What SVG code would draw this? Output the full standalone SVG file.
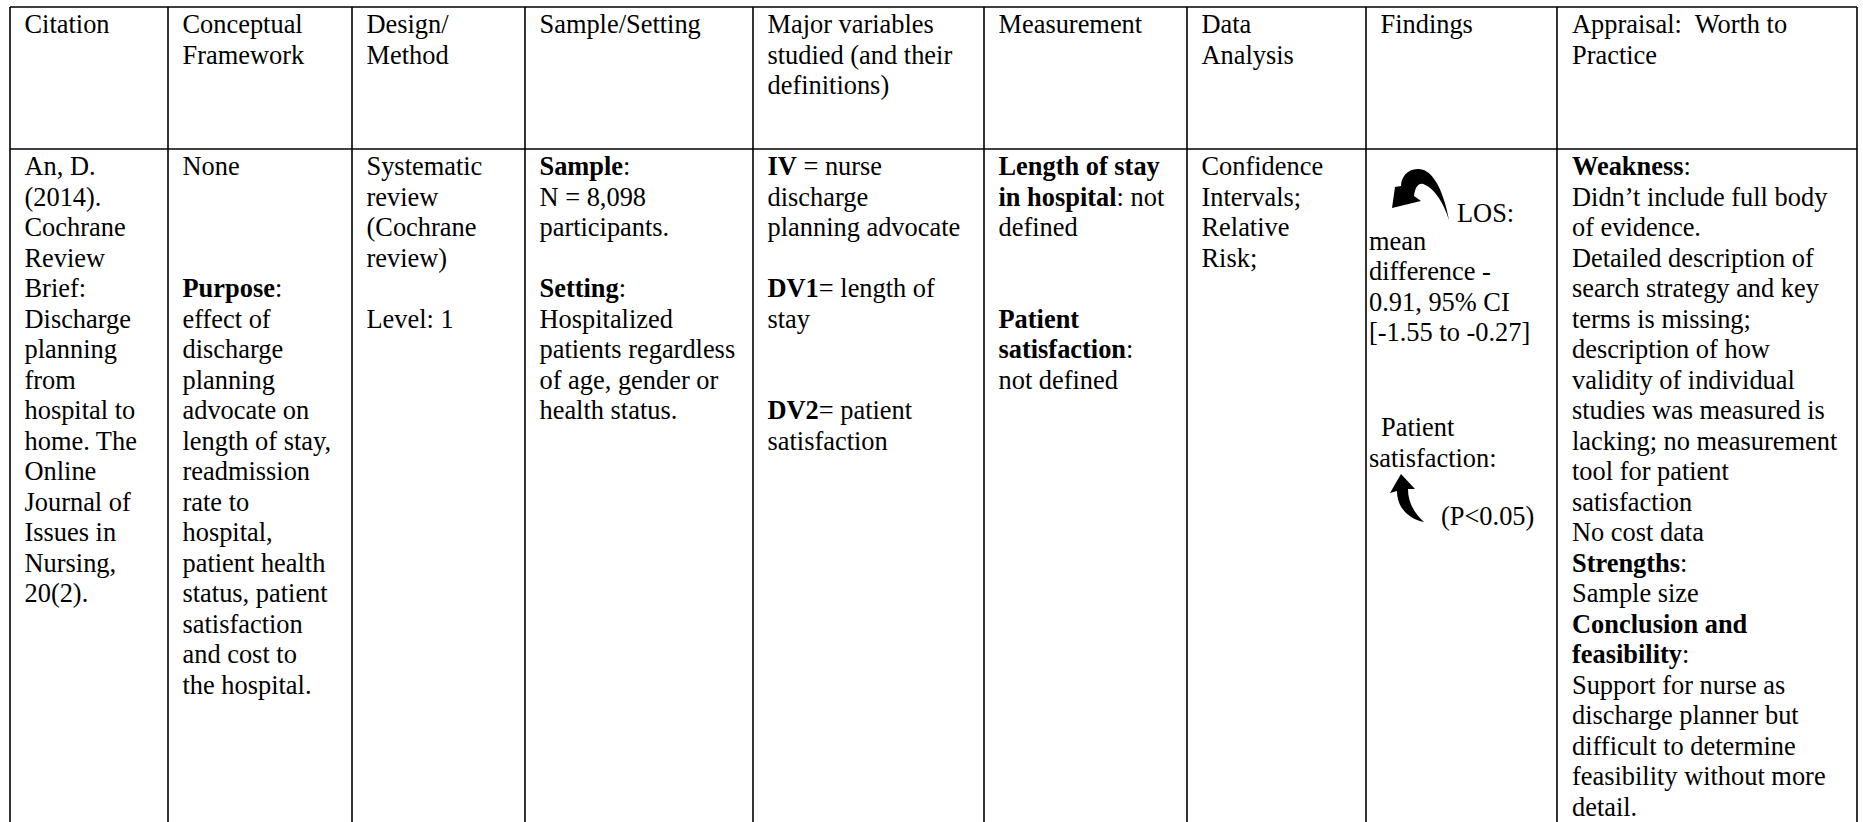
<svg xmlns="http://www.w3.org/2000/svg" width="1863" height="822" viewBox="0 0 1863 822">
<style>
.t{font-family:"Liberation Serif","Times New Roman",serif;font-size:26.4px;fill:#000}
.b{font-weight:bold}
.g{stroke:#000;stroke-width:1.6;fill:none}
.ar{fill:#000;stroke:none}
</style>
<rect width="1863" height="822" fill="#fff"/>
<g id="grid" class="g">
<line x1="10" y1="7" x2="1857" y2="7"/>
<line x1="10" y1="149" x2="1857" y2="149"/>
<line x1="10" y1="7" x2="10" y2="830"/>
<line x1="168" y1="7" x2="168" y2="830"/>
<line x1="352" y1="7" x2="352" y2="830"/>
<line x1="525" y1="7" x2="525" y2="830"/>
<line x1="753" y1="7" x2="753" y2="830"/>
<line x1="984" y1="7" x2="984" y2="830"/>
<line x1="1187" y1="7" x2="1187" y2="830"/>
<line x1="1366" y1="7" x2="1366" y2="830"/>
<line x1="1557" y1="7" x2="1557" y2="830"/>
<line x1="1857" y1="7" x2="1857" y2="830"/>
</g>
<g id="header" class="t">
<text x="24.5" y="33">Citation</text>
<text x="182.5" y="33">Conceptual<tspan x="182.5" y="63.5">Framework</tspan></text>
<text x="366.5" y="33">Design/<tspan x="366.5" y="63.5">Method</tspan></text>
<text x="539.5" y="33">Sample/Setting</text>
<text x="767.5" y="33">Major variables<tspan x="767.5" y="63.5">studied (and their</tspan><tspan x="767.5" y="94">definitions)</tspan></text>
<text x="998.5" y="33">Measurement</text>
<text x="1201.5" y="33">Data<tspan x="1201.5" y="63.5">Analysis</tspan></text>
<text x="1380.5" y="33">Findings</text>
<text x="1572" y="33" xml:space="preserve">Appraisal:  Worth to<tspan x="1572" y="63.5">Practice</tspan></text>
</g>
<g id="citation" class="t">
<text x="24.5" y="175">An, D.<tspan x="24.5" y="205.5">(2014).</tspan><tspan x="24.5" y="236">Cochrane</tspan><tspan x="24.5" y="266.5">Review</tspan><tspan x="24.5" y="297">Brief:</tspan><tspan x="24.5" y="327.5">Discharge</tspan><tspan x="24.5" y="358">planning</tspan><tspan x="24.5" y="388.5">from</tspan><tspan x="24.5" y="419">hospital to</tspan><tspan x="24.5" y="449.5">home. The</tspan><tspan x="24.5" y="480">Online</tspan><tspan x="24.5" y="510.5">Journal of</tspan><tspan x="24.5" y="541">Issues in</tspan><tspan x="24.5" y="571.5">Nursing,</tspan><tspan x="24.5" y="602">20(2).</tspan></text>
</g>
<g id="framework" class="t">
<text x="182.5" y="175">None</text>
<text x="182.5" y="297"><tspan class="b">Purpose</tspan>:<tspan x="182.5" y="327.5">effect of</tspan><tspan x="182.5" y="358">discharge</tspan><tspan x="182.5" y="388.5">planning</tspan><tspan x="182.5" y="419">advocate on</tspan><tspan x="182.5" y="449.5">length of stay,</tspan><tspan x="182.5" y="480">readmission</tspan><tspan x="182.5" y="510.5">rate to</tspan><tspan x="182.5" y="541">hospital,</tspan><tspan x="182.5" y="571.5">patient health</tspan><tspan x="182.5" y="602">status, patient</tspan><tspan x="182.5" y="632.5">satisfaction</tspan><tspan x="182.5" y="663">and cost to</tspan><tspan x="182.5" y="693.5">the hospital.</tspan></text>
</g>
<g id="design" class="t">
<text x="366.5" y="175">Systematic<tspan x="366.5" y="205.5">review</tspan><tspan x="366.5" y="236">(Cochrane</tspan><tspan x="366.5" y="266.5">review)</tspan></text>
<text x="366.5" y="327.5">Level: 1</text>
</g>
<g id="sample" class="t">
<text x="539.5" y="175"><tspan class="b">Sample</tspan>:<tspan x="539.5" y="205.5">N = 8,098</tspan><tspan x="539.5" y="236">participants.</tspan></text>
<text x="539.5" y="297"><tspan class="b">Setting</tspan>:<tspan x="539.5" y="327.5">Hospitalized</tspan><tspan x="539.5" y="358">patients regardless</tspan><tspan x="539.5" y="388.5">of age, gender or</tspan><tspan x="539.5" y="419">health status.</tspan></text>
</g>
<g id="variables" class="t">
<text x="767.5" y="175"><tspan class="b">IV</tspan> = nurse<tspan x="767.5" y="205.5">discharge</tspan><tspan x="767.5" y="236">planning advocate</tspan></text>
<text x="767.5" y="297"><tspan class="b">DV1</tspan>= length of<tspan x="767.5" y="327.5">stay</tspan></text>
<text x="767.5" y="419"><tspan class="b">DV2</tspan>= patient<tspan x="767.5" y="449.5">satisfaction</tspan></text>
</g>
<g id="measurement" class="t">
<text x="998.5" y="175" class="b">Length of stay</text>
<text x="998.5" y="205.5"><tspan class="b">in hospital</tspan>: not<tspan x="998.5" y="236">defined</tspan></text>
<text x="998.5" y="327.5" class="b">Patient</text>
<text x="998.5" y="358"><tspan class="b">satisfaction</tspan>:<tspan x="998.5" y="388.5">not defined</tspan></text>
</g>
<g id="analysis" class="t">
<text x="1201.5" y="175">Confidence<tspan x="1201.5" y="205.5">Intervals;</tspan><tspan x="1201.5" y="236">Relative</tspan><tspan x="1201.5" y="266.5">Risk;</tspan></text>
</g>
<g id="findings">
<path class="ar" d="M1449 220 C1444 193 1434 170 1419 169 C1408 168 1401 177 1401 186 L1395 187 L1392 208 L1421 201 L1414 196 C1415 188 1418 183 1423 184 C1433 187 1443 201 1449 220 Z"/>
<path class="ar" d="M1401 474 L1415 489 L1408 489 C1408 502 1414 513 1424 522 C1408 519 1397 507 1397 491 L1390 493 Z"/>
<text class="t" x="1457" y="222">LOS:</text>
<text class="t" x="1369" y="249.5">mean<tspan x="1369" y="280">difference -</tspan><tspan x="1369" y="310.5">0.91, 95% CI</tspan><tspan x="1369" y="341">[-1.55 to -0.27]</tspan></text>
<text class="t" x="1381" y="436">Patient</text>
<text class="t" x="1369" y="466.5">satisfaction:</text>
<text class="t" x="1441" y="525">(P&lt;0.05)</text>
</g>
<g id="appraisal" class="t">
<text x="1572" y="175"><tspan class="b">Weakness</tspan>:<tspan x="1572" y="205.5">Didn’t include full body</tspan><tspan x="1572" y="236">of evidence.</tspan><tspan x="1572" y="266.5">Detailed description of</tspan><tspan x="1572" y="297">search strategy and key</tspan><tspan x="1572" y="327.5">terms is missing;</tspan><tspan x="1572" y="358">description of how</tspan><tspan x="1572" y="388.5">validity of individual</tspan><tspan x="1572" y="419">studies was measured is</tspan><tspan x="1572" y="449.5">lacking; no measurement</tspan><tspan x="1572" y="480">tool for patient</tspan><tspan x="1572" y="510.5">satisfaction</tspan><tspan x="1572" y="541">No cost data</tspan><tspan x="1572" y="571.5" class="b">Strengths</tspan><tspan>:</tspan><tspan x="1572" y="602">Sample size</tspan><tspan x="1572" y="632.5" class="b">Conclusion and</tspan><tspan x="1572" y="663" class="b">feasibility</tspan><tspan>:</tspan><tspan x="1572" y="693.5">Support for nurse as</tspan><tspan x="1572" y="724">discharge planner but</tspan><tspan x="1572" y="754.5">difficult to determine</tspan><tspan x="1572" y="785">feasibility without more</tspan><tspan x="1572" y="815.5">detail.</tspan></text>
</g>
</svg>
